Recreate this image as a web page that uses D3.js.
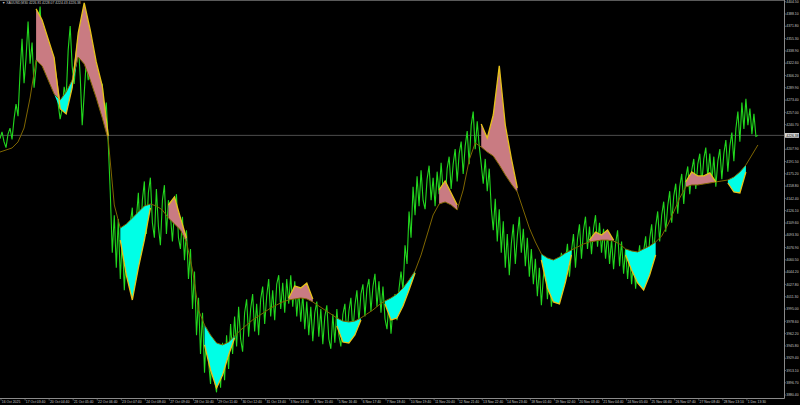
<!DOCTYPE html>
<html><head><meta charset="utf-8">
<script src="https://cdn.jsdelivr.net/npm/d3@7"></script>
<style>html,body{margin:0;padding:0;background:#000;overflow:hidden}svg{display:block}</style>
</head><body>
<svg id="c" width="800" height="405"></svg>
<script>
// ---------- data ----------
const symbol = "XAUUSD,M30";
const ohlc = ["4226.81", "4228.07", "4224.43", "4226.38"];

const priceTicks = [4404.50, 4388.10, 4371.80, 4355.30, 4338.90, 4322.60, 4306.20, 4289.90, 4273.40, 4257.00,
  4240.70, 4224.30, 4207.90, 4191.50, 4175.20, 4158.80, 4142.40, 4126.10, 4109.60, 4093.30, 4076.90,
  4060.50, 4044.20, 4027.80, 4011.30, 3995.00, 3978.60, 3962.20, 3945.80, 3929.40, 3913.10, 3896.70, 3880.40];

const dateLabels = ["16 Oct 2025", "17 Oct 03:40", "20 Oct 04:40", "21 Oct 05:40", "22 Oct 06:40", "23 Oct 07:40",
  "24 Oct 08:40", "27 Oct 09:40", "28 Oct 10:40", "29 Oct 11:40", "30 Oct 12:40", "31 Oct 13:40", "3 Nov 14:40",
  "4 Nov 15:40", "5 Nov 16:40", "6 Nov 17:40", "7 Nov 18:40", "10 Nov 19:40", "11 Nov 20:40", "12 Nov 21:40",
  "13 Nov 22:40", "14 Nov 23:40", "18 Nov 01:40", "19 Nov 02:40", "20 Nov 03:40", "21 Nov 04:40", "24 Nov 05:40",
  "25 Nov 06:40", "26 Nov 07:40", "27 Nov 08:40", "28 Nov 13:10", "1 Dec 13:30"];

// close price, one value every 4 bars
const price = [
  4222, 4231, 4218, 4210, 4228, 4236, 4221, 4248, 4268, 4252,
  4310, 4355, 4296, 4330, 4378, 4322, 4350, 4290, 4318, 4372,
  4398, 4345, 4330, 4352, 4318, 4336, 4305, 4322, 4290, 4268,
  4248, 4262, 4291, 4276, 4340, 4372, 4318, 4295, 4330, 4352,
  4305, 4240, 4282, 4325, 4300, 4338, 4310, 4285, 4312, 4290,
  4268, 4295, 4250, 4270, 4215, 4150, 4070, 4120, 4050, 4115,
  4035, 4090, 4020, 4075, 4040, 4110, 4130, 4060, 4115, 4150,
  4085, 4140, 4165, 4095, 4150, 4170, 4110, 4090, 4155, 4105,
  4080, 4140, 4160, 4095, 4140, 4120, 4085, 4125, 4148, 4090,
  4075, 4118, 4060, 4100, 4035, 4075, 3995, 4045, 3960, 4010,
  3935, 3990, 3910, 3970, 3925, 3895, 3955, 3900, 3884, 3930,
  3890, 3950, 3900, 3960, 3915, 3975, 3935, 3985, 3945, 3998,
  3955, 3938, 3990, 4008, 3958, 3995, 4015, 3965, 4002, 3960,
  4008, 4025, 3975, 4012, 4035, 3985, 4020, 3980, 4028, 4040,
  3995, 4030, 3990, 4035, 4002, 4040, 3998, 4032, 3985, 4020,
  3978, 4015, 3968, 4005, 3960, 3998, 3952, 3990, 4005, 3958,
  3995, 3948, 3985, 4000, 3955, 3942, 3988, 3950, 3995, 3960,
  3945, 3988, 4002, 3958, 3992, 4010, 3965, 4000, 4020, 3978,
  4015, 4028, 3985, 4022, 4035, 3992, 4025, 4042, 3998, 4032,
  3990, 4025, 3982, 3968, 4005, 3962, 3995, 4015, 3980, 4022,
  4045, 4020, 4080, 4055, 4125, 4090, 4158, 4120, 4172, 4132,
  4180, 4140, 4128, 4168, 4186, 4140, 4170, 4132, 4178, 4148,
  4190, 4152, 4138, 4182, 4198, 4155, 4188, 4208, 4165, 4202,
  4218, 4175, 4212, 4232, 4188, 4240, 4258, 4208, 4245, 4212,
  4188, 4162, 4195, 4152, 4182, 4130, 4100, 4142, 4085, 4128,
  4070, 4112, 4050, 4095, 4040, 4082, 4108, 4055, 4092, 4118,
  4070, 4102, 4052, 4090, 4038, 4075, 4028, 4062, 4012, 4050,
  4000, 4038, 4058, 4008, 4042, 3998, 4032, 4055, 4010, 4048,
  4070, 4022, 4060, 4082, 4038, 4072, 4095, 4050, 4088, 4108,
  4062, 4100, 4118, 4075, 4105, 4068, 4102, 4120, 4078, 4110,
  4070, 4102, 4062, 4095, 4055, 4088, 4048, 4082, 4100, 4052,
  4085, 4042, 4075, 4035, 4068, 4028, 4062, 4022, 4058, 4080,
  4035, 4072, 4092, 4050, 4088, 4108, 4068, 4105, 4125, 4085,
  4120, 4138, 4098, 4132, 4152, 4110, 4145, 4162, 4122, 4158,
  4175, 4135, 4170, 4185, 4148, 4180, 4195, 4155, 4188, 4202,
  4162, 4195, 4210, 4170, 4202, 4165, 4198, 4158, 4192, 4208,
  4168, 4202, 4220, 4178, 4212, 4230, 4192, 4235, 4258, 4218,
  4270, 4235, 4275, 4240, 4262, 4228, 4255, 4225, 4226.38];

// slow moving average, one value every 12 bars
const slowLine = [4204.2, 4206.9, 4209.6, 4217.6, 4236.2, 4276.2, 4326.8, 4318.9, 4300.2, 4281.5, 4273.5, 4284.2,
  4300.2, 4330.8, 4321.5, 4300.2, 4276.2, 4249.6, 4220.2, 4133.6, 4102.9, 4108.3, 4116.3, 4124.3, 4132.3, 4134.9,
  4132.3, 4126.9, 4116.3, 4108.3, 4100.3, 4084.3, 4047.0, 3993.7, 3973.7, 3960.4, 3949.7, 3947.1, 3951.0, 3959.0,
  3967.0, 3973.7, 3980.4, 3985.7, 3991.0, 3996.4, 4000.4, 4004.4, 4007.0, 4008.4, 4009.7, 4008.4, 4004.4, 3999.0,
  3993.7, 3988.4, 3983.0, 3979.0, 3977.7, 3979.0, 3983.0, 3988.4, 3993.7, 4000.4, 4005.7, 4009.7, 4015.0, 4023.0,
  4033.7, 4045.7, 4067.0, 4093.6, 4120.3, 4134.9, 4137.6, 4133.6, 4126.9, 4153.6, 4193.6, 4216.2, 4210.9, 4204.2,
  4198.9, 4186.9, 4173.6, 4161.6, 4150.9, 4126.9, 4102.9, 4084.3, 4068.3, 4063.0, 4060.3, 4064.3, 4069.6, 4073.7,
  4077.6, 4081.6, 4084.3, 4085.6, 4086.8, 4086.8, 4085.6, 4081.6, 4075.0, 4072.3, 4071.0, 4075.0, 4079.0, 4084.3,
  4092.3, 4106.9, 4124.3, 4142.9, 4157.6, 4160.3, 4160.3, 4161.6, 4162.9, 4164.3, 4165.6, 4166.9, 4170.9, 4177.6,
  4186.9, 4200.2, 4213.6];

// fast signal line (only during swing episodes), one value every 12 bars
const fastLine = [null, null, null, null, null, null, 4395.0, 4380.0, 4355.0, 4330.0, 4262.0, 4255.0, 4290.0, 4362.8,
  4402.8, 4366.8, 4324.2, 4292.2, 4225.6, null, 4086.8, 4040.3, 4007.0, 4049.7, 4086.8, 4129.6, null, null, 4133.6,
  4144.3, 4116.3, 4089.6, null, null, 3947.1, 3913.7, 3889.7, 3907.1, 3933.7, 3956.4, null, null, null, null, null,
  null, null, null, 4009.7, 4025.7, 4023.0, 4029.7, 4008.4, null, null, null, 3972.4, 3951.0, 3949.7, 3960.4, 3980.4,
  null, null, null, 4001.7, 3980.4, 3983.0, 3999.0, 4020.3, 4043.0, null, null, null, 4153.6, 4165.6, 4149.6, 4133.6,
  null, null, null, 4241.6, 4222.9, 4253.5, 4318.9, 4240.2, 4196.2, 4156.3, null, null, null, 4060.3, 4023.0, 4004.4,
  4001.7, 4031.0, 4067.0, null, null, 4086.8, 4097.6, 4093.6, 4100.3, 4086.8, null, 4067.0, 4047.0, 4029.7, 4020.3,
  4040.3, 4067.0, null, null, null, null, 4164.3, 4177.6, 4172.3, 4172.3, 4176.3, 4164.3, null, 4162.9, 4150.9,
  4149.6, 4177.6, null, null];

const PRICE_STEP = 4, IND_STEP = 12, LABEL_STEP = 48;

// ---------- drawing ----------
const W = 800, H = 405, plotR = 784.5, axisY = 398.5;
const svg = d3.select('#c');
svg.append('rect').attr('width', W).attr('height', H).attr('fill', '#000');

const x = d3.scaleLinear().domain([0, 1564]).range([0, 784]);
const y = d3.scaleLinear().domain([3880.4, 4404.5]).range([395, 1.7]);

svg.append('defs').append('clipPath').attr('id', 'clip')
  .append('rect').attr('x', 0).attr('y', 0).attr('width', plotR).attr('height', axisY);

const plot = svg.append('g').attr('clip-path', 'url(#clip)');

const last = price[price.length - 1];
// current price line
plot.append('line').attr('x1', 0).attr('x2', plotR).attr('y1', y(last)).attr('y2', y(last))
  .attr('stroke', '#4d4d4d').attr('stroke-width', 1);

// price line
const pts = price.map((p, i) => ({ b: i * PRICE_STEP, p }));
plot.append('path').datum(pts)
  .attr('d', d3.line().x(d => x(d.b)).y(d => y(d.p)))
  .attr('fill', 'none').attr('stroke', '#22d81e').attr('stroke-width', 1.1).attr('stroke-linejoin', 'miter');

// indicator fills
const ind = slowLine.map((s, j) => ({ b: j * IND_STEP, s, f: fastLine[j] }));
const has = d => d.f != null;
plot.append('path').datum(ind)
  .attr('d', d3.area().defined(has).x(d => x(d.b)).y0(d => y(d.s)).y1(d => y(Math.max(d.f, d.s))))
  .attr('fill', '#c97b82');
plot.append('path').datum(ind)
  .attr('d', d3.area().defined(has).x(d => x(d.b)).y0(d => y(d.s)).y1(d => y(Math.min(d.f, d.s))))
  .attr('fill', '#00ffe6');

// slow line
plot.append('path').datum(ind)
  .attr('d', d3.line().x(d => x(d.b)).y(d => y(d.s)))
  .attr('fill', 'none').attr('stroke', '#7f6600').attr('stroke-width', 1);
// fast line
plot.append('path').datum(ind)
  .attr('d', d3.line().defined(has).x(d => x(d.b)).y(d => y(d.f)))
  .attr('fill', 'none').attr('stroke', '#e6c21a').attr('stroke-width', 1.3);

// frame / axes
svg.append('line').attr('x1', 0).attr('x2', plotR).attr('y1', 0.5).attr('y2', 0.5).attr('stroke', '#5a5a5a');
svg.append('line').attr('x1', plotR).attr('x2', plotR).attr('y1', 0).attr('y2', axisY).attr('stroke', '#8a8a8a');
svg.append('line').attr('x1', 0).attr('x2', plotR).attr('y1', axisY).attr('y2', axisY).attr('stroke', '#8a8a8a');

const fontFam = 'Liberation Sans, Arial, sans-serif';
const fs = 3.4;

// price axis labels
const pa = svg.append('g');
priceTicks.forEach(v => {
  pa.append('line').attr('x1', plotR).attr('x2', plotR + 1.5).attr('y1', y(v)).attr('y2', y(v)).attr('stroke', '#8a8a8a').attr('stroke-width', 0.6);
  pa.append('text').attr('x', plotR + 1.8).attr('y', y(v) + 1.2).text(v.toFixed(2))
    .attr('font-family', fontFam).attr('font-size', fs).attr('fill', '#c8c8c8');
});
// current price tag
pa.append('rect').attr('x', plotR + 0.5).attr('y', y(last) - 2.3).attr('width', 14).attr('height', 4.6).attr('fill', '#d9d9d9');
pa.append('text').attr('x', plotR + 1.8).attr('y', y(last) + 1.2).text(last.toFixed(2))
  .attr('font-family', fontFam).attr('font-size', fs).attr('fill', '#000');

// time axis labels
const ta = svg.append('g');
dateLabels.forEach((t, k) => {
  const xx = x(k * LABEL_STEP + 2);
  ta.append('line').attr('x1', xx).attr('x2', xx).attr('y1', axisY).attr('y2', axisY + 2).attr('stroke', '#8a8a8a').attr('stroke-width', 0.6);
  ta.append('text').attr('x', xx + 0.8).attr('y', 402.6).text(t)
    .attr('font-family', fontFam).attr('font-size', fs).attr('fill', '#c8c8c8');
});

// header
svg.append('text').attr('x', 2).attr('y', 4.4)
  .text('\u25BC ' + symbol + '  ' + ohlc.join(' '))
  .attr('font-family', fontFam).attr('font-size', fs).attr('fill', '#c8c8c8');
</script>
</body></html>
